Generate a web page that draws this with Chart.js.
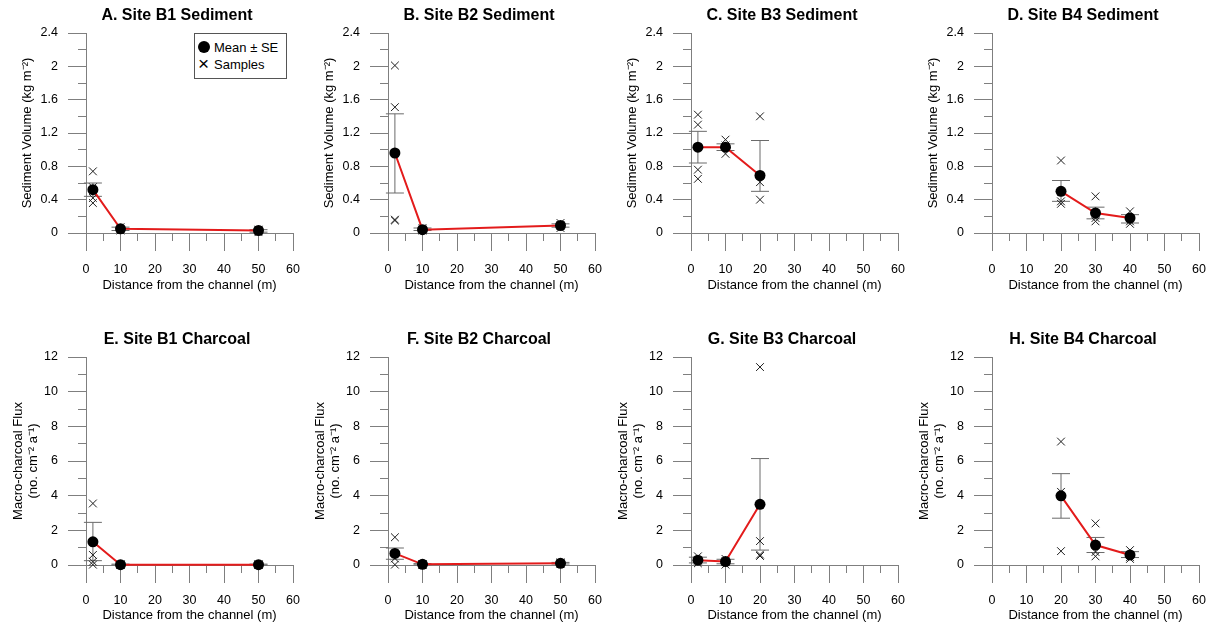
<!DOCTYPE html>
<html>
<head>
  <script src="https://cdn.jsdelivr.net/npm/chart.js@4.4.0/dist/chart.umd.min.js"></script>
  <style>
    * { margin: 0; padding: 0; box-sizing: border-box; }
    body {
      background: #fff;
      width: 1221px;
      height: 628px;
      position: relative;
      overflow: hidden;
      font-family: Arial, "Liberation Sans", sans-serif;
      color: #000;
    }
    .panel { position: absolute; width: 303px; }
    .panel h3 {
      position: absolute;
      left: 27px;
      top: 5px;
      width: 300px;
      text-align: center;
      font-size: 16px;
      line-height: 20px;
      font-weight: bold;
    }
    .legend {
      position: absolute;
      left: 194px;
      top: 33px;
      width: 93px;
      height: 46px;
      border: 1px solid #555;
      background: #fff;
      font-size: 13px;
    }
    .legend div { position: absolute; left: 19px; line-height: 15px; }
    .legend .dot {
      position: absolute; left: 3px; width: 12px; height: 12px;
      border-radius: 50%; background: #000;
    }
    .legend .cross { position: absolute; left: 3px; font-size: 19px; line-height: 15px; }
  </style>
</head>
<body>
  <div class="panel" style="left:0; top:0"><canvas id="pA" width="303" height="295"></canvas><h3>A. Site B1 Sediment</h3>
    <div class="legend">
      <span class="dot" style="top:7px"></span><div style="top:6px">Mean ± SE</div>
      <span class="cross" style="top:22px">×</span><div style="top:23px">Samples</div>
    </div>
  </div>
  <div class="panel" style="left:302px; top:0"><canvas id="pB" width="303" height="295"></canvas><h3>B. Site B2 Sediment</h3></div>
  <div class="panel" style="left:605px; top:0"><canvas id="pC" width="303" height="295"></canvas><h3>C. Site B3 Sediment</h3></div>
  <div class="panel" style="left:906px; top:0"><canvas id="pD" width="303" height="295"></canvas><h3>D. Site B4 Sediment</h3></div>
  <div class="panel" style="left:0; top:324px"><canvas id="pE" width="303" height="302"></canvas><h3>E. Site B1 Charcoal</h3></div>
  <div class="panel" style="left:302px; top:324px"><canvas id="pF" width="303" height="302"></canvas><h3>F. Site B2 Charcoal</h3></div>
  <div class="panel" style="left:605px; top:324px"><canvas id="pG" width="303" height="302"></canvas><h3>G. Site B3 Charcoal</h3></div>
  <div class="panel" style="left:906px; top:324px"><canvas id="pH" width="303" height="302"></canvas><h3>H. Site B4 Charcoal</h3></div>

  <script>
    // sediment (kg m-2): distance, mean, SE bar ends, individual samples
    const sedB1Dist = [2, 10, 50];
    const sedB1Mean = [0.52, 0.05, 0.03];
    const sedB1Low = [0.44, 0.03, 0.01];
    const sedB1High = [0.60, 0.07, 0.04];
    const sedB1Samples = [[0.74, 0.55, 0.42, 0.36], [0.07, 0.05, 0.03], [0.04, 0.03, 0.01]];

    const sedB2Dist = [2, 10, 50];
    const sedB2Mean = [0.96, 0.04, 0.09];
    const sedB2Low = [0.48, 0.03, 0.07];
    const sedB2High = [1.43, 0.06, 0.11];
    const sedB2Samples = [[2.01, 1.51, 0.16, 0.15], [0.06, 0.04, 0.03], [0.12, 0.09, 0.06]];

    const sedB3Dist = [2, 10, 20];
    const sedB3Mean = [1.03, 1.03, 0.69];
    const sedB3Low = [0.84, 0.99, 0.50];
    const sedB3High = [1.22, 1.07, 1.11];
    const sedB3Samples = [[1.42, 1.30, 0.76, 0.65], [1.12, 1.05, 0.95], [1.40, 0.61, 0.40]];

    const sedB4Dist = [20, 30, 40];
    const sedB4Mean = [0.50, 0.24, 0.18];
    const sedB4Low = [0.38, 0.17, 0.12];
    const sedB4High = [0.63, 0.31, 0.22];
    const sedB4Samples = [[0.87, 0.38, 0.35], [0.44, 0.18, 0.14], [0.26, 0.14, 0.11]];

    // macro-charcoal flux (no. cm-2 a-1)
    const charB1Dist = [2, 10, 50];
    const charB1Mean = [1.34, 0.02, 0.02];
    const charB1Low = [0.25, 0.0, 0.0];
    const charB1High = [2.46, 0.05, 0.05];
    const charB1Samples = [[3.55, 0.58, 0.19, 0.02], [0.03, 0.02, 0.01], [0.03, 0.02, 0.01]];

    const charB2Dist = [2, 10, 50];
    const charB2Mean = [0.67, 0.04, 0.10];
    const charB2Low = [0.33, 0.01, 0.06];
    const charB2High = [0.98, 0.08, 0.15];
    const charB2Samples = [[1.60, 0.38, 0.02], [0.06, 0.03, 0.02], [0.15, 0.10, 0.05]];

    const charB3Dist = [2, 10, 20];
    const charB3Mean = [0.28, 0.20, 3.50];
    const charB3Low = [0.12, 0.07, 0.86];
    const charB3High = [0.45, 0.33, 6.14];
    const charB3Samples = [[0.50, 0.25, 0.10], [0.35, 0.20, 0.02], [11.42, 1.38, 0.60, 0.52]];

    const charB4Dist = [20, 30, 40];
    const charB4Mean = [3.99, 1.15, 0.58];
    const charB4Low = [2.70, 0.72, 0.43];
    const charB4High = [5.27, 1.59, 0.77];
    const charB4Samples = [[7.12, 4.22, 0.80], [2.40, 0.75, 0.50], [0.86, 0.45, 0.35]];

    const xTitle = 'Distance from the channel (m)';
    const sedTitle = 'Sediment Volume (kg m\u207B\u00B2)';
    const charTitle = ['Macro-charcoal Flux', '(no. cm\u207B\u00B2 a\u207B\u00B9)'];

    const AXIS = '#7f7f7f';
    const BAR = '#6a6a6a';
    const RED = '#e31b1b';
    const FONT = 'Arial, "Liberation Sans", sans-serif';

    function panel(id, dist, mean, low, high, samples, sed) {
      const sampleXY = [];
      samples.forEach((vals, i) => vals.forEach(v => sampleXY.push({ x: dist[i], y: v })));
      const bars = [];
      dist.forEach((d, i) => bars.push({ x: d, y: low[i] }, { x: d, y: high[i] }, { x: d, y: null }));

      const yMax = sed ? 2.4 : 12;
      const yStep = sed ? 0.4 : 2;
      const xh = sed ? 62 : 61;

      new Chart(document.getElementById(id), {
        type: 'scatter',
        data: {
          datasets: [
            {
              data: dist.map((d, i) => ({ x: d, y: mean[i] })),
              showLine: true, borderColor: RED, borderWidth: 2,
              pointRadius: 5.5, pointBackgroundColor: '#000', pointBorderWidth: 0,
              clip: false, order: 0
            },
            {
              data: sampleXY,
              pointStyle: 'crossRot', pointRadius: 5.5,
              pointBorderColor: '#1e1e1e', pointBorderWidth: 1,
              clip: false, order: 1
            },
            {
              data: bars,
              showLine: true, borderColor: BAR, borderWidth: 1,
              pointStyle: 'line', pointRadius: 9,
              pointBorderColor: BAR, pointBorderWidth: 1,
              clip: false, order: 2
            }
          ]
        },
        options: {
          responsive: false,
          animation: false,
          layout: { padding: { top: 33, right: 9, left: 0, bottom: 0 } },
          plugins: { legend: { display: false }, tooltip: { enabled: false } },
          scales: {
            x: {
              type: 'linear', position: 'bottom', min: 0, max: 60,
              ticks: { stepSize: 10, color: '#000', padding: sed ? 11 : 10, font: { family: FONT, size: 12.5 } },
              grid: { drawOnChartArea: false, tickLength: 18, tickColor: AXIS },
              border: { color: AXIS },
              title: {
                display: true, text: xTitle, color: '#000',
                font: { family: FONT, size: 13, lineHeight: 1.15 },
                padding: { top: 0, bottom: sed ? 2 : 3 }
              },
              // fixed axis height, and keep the end labels from squeezing the plot
              afterFit: s => { s.height = xh; s.paddingLeft = 0; s.paddingRight = 9; }
            },
            xMinor: {
              type: 'linear', axis: 'x', position: { y: 0 }, min: 0, max: 60,
              ticks: { stepSize: 5, display: false },
              grid: { drawOnChartArea: false, tickLength: 8, tickColor: AXIS },
              border: { display: false }
            },
            y: {
              type: 'linear', position: 'left', min: 0, max: yMax,
              ticks: {
                stepSize: yStep, color: '#000', padding: 10,
                font: { family: FONT, size: 12.5 },
                callback: v => String(Math.round(v * 10) / 10)
              },
              grid: { drawOnChartArea: false, tickLength: 18, tickColor: AXIS },
              border: { color: AXIS },
              title: {
                display: true, text: sed ? sedTitle : charTitle, color: '#000',
                font: { family: FONT, size: 13, lineHeight: 1.15 },
                padding: { top: sed ? 19.5 : 10.5, bottom: 0 }
              },
              afterFit: s => { s.width = 86; }
            },
            yMinor: {
              type: 'linear', axis: 'y', position: { x: 0 }, min: 0, max: yMax,
              ticks: { stepSize: yStep / 2, display: false },
              grid: { drawOnChartArea: false, tickLength: 8, tickColor: AXIS },
              border: { display: false }
            }
          }
        }
      });
    }

    panel('pA', sedB1Dist, sedB1Mean, sedB1Low, sedB1High, sedB1Samples, true);
    panel('pB', sedB2Dist, sedB2Mean, sedB2Low, sedB2High, sedB2Samples, true);
    panel('pC', sedB3Dist, sedB3Mean, sedB3Low, sedB3High, sedB3Samples, true);
    panel('pD', sedB4Dist, sedB4Mean, sedB4Low, sedB4High, sedB4Samples, true);
    panel('pE', charB1Dist, charB1Mean, charB1Low, charB1High, charB1Samples, false);
    panel('pF', charB2Dist, charB2Mean, charB2Low, charB2High, charB2Samples, false);
    panel('pG', charB3Dist, charB3Mean, charB3Low, charB3High, charB3Samples, false);
    panel('pH', charB4Dist, charB4Mean, charB4Low, charB4High, charB4Samples, false);
  </script>
</body>
</html>
